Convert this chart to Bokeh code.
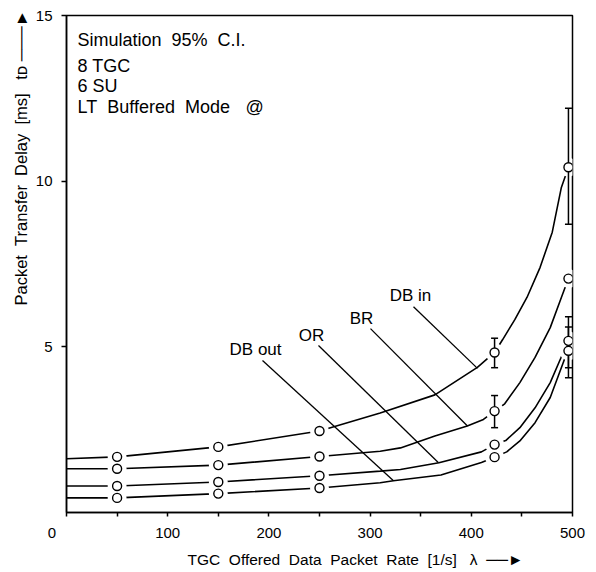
from bokeh.plotting import figure
from bokeh.models import Range1d, FixedTicker, Title
from bokeh.embed import file_html
from bokeh.resources import INLINE
from bokeh.core.properties import value

NB = "\u00a0"

# ---------------- data ----------------
# simulation points (x = offered rate [1/s], y = delay [ms])
pt_x = [50, 150, 250, 423, 496]
db_in_pts = [1.68, 1.98, 2.46, 4.83, 10.42]
br_pts = [1.32, 1.43, 1.69, 3.06, 7.06]
or_pts = [0.80, 0.92, 1.11, 2.05, 5.18]
db_out_pts = [0.44, 0.57, 0.74, 1.67, 4.88]

# analytic curves
db_in_cx = [0, 50, 150, 250, 310, 364, 406, 423, 431, 443, 455, 468, 480, 489, 496]
db_in_cy = [1.62, 1.68, 1.98, 2.46, 3.00, 3.55, 4.38, 4.83, 5.22, 5.82, 6.49, 7.40, 8.46, 9.81, 10.42]
br_cx = [0, 50, 150, 250, 310, 330, 364, 396, 412, 423, 433, 448, 463, 478, 489, 496]
br_cy = [1.32, 1.32, 1.43, 1.69, 1.85, 1.95, 2.31, 2.61, 2.81, 3.06, 3.28, 3.92, 4.68, 5.58, 6.49, 7.06]
or_cx = [0, 50, 150, 250, 310, 330, 368, 410, 423, 434, 448, 463, 478, 490, 496]
or_cy = [0.80, 0.80, 0.92, 1.11, 1.25, 1.30, 1.50, 1.83, 2.05, 2.17, 2.56, 3.16, 3.92, 4.77, 5.18]
db_out_cx = [0, 50, 150, 250, 310, 323, 370, 410, 423, 435, 448, 463, 478, 492, 496]
db_out_cy = [0.44, 0.44, 0.57, 0.74, 0.90, 0.96, 1.13, 1.51, 1.67, 1.83, 2.16, 2.71, 3.47, 4.62, 4.88]

# 95% confidence intervals
ci_x = [423, 423, 496, 496, 496]
ci_lo = [4.37, 2.56, 8.70, 4.37, 4.07]
ci_hi = [5.26, 3.53, 12.20, 5.91, 5.60]

# curve labels and their leader lines
curve_names = ["DB in", "BR", "OR", "DB out"]
name_x = [339.9, 291.5, 242.1, 186.8]
name_y = [6.54, 5.85, 5.34, 4.92]
lead_x0 = [342.9, 300.4, 249.0, 193.7]
lead_y0 = [6.21, 5.55, 5.04, 4.59]
lead_x1 = [406.1, 396.2, 367.6, 323.1]
lead_y1 = [4.35, 2.61, 1.50, 0.96]

info_lines = ["Simulation" + NB + " 95%" + NB + " C.I.", "8 TGC", "6 SU",
              "LT" + NB + " Buffered" + NB + " Mode"]
info_y = [14.25, 13.47, 12.87, 12.24]

x_ticks = [0, 50, 100, 150, 200, 250, 300, 350, 400, 450, 500]
x_labels = {0: "0" + NB * 7, 50: "", 100: "100", 150: "", 200: "200", 250: "",
            300: "300", 350: "", 400: "400", 450: "", 500: "500"}
y_ticks = [5, 10, 15]

GAP = " " + NB
x_title = ("TGC" + GAP + "Offered" + GAP + "Data" + GAP + "Packet" + GAP + "Rate" + GAP + "[1/s]"
           + NB * 3 + "λ" + NB * 2 + "──►")
y_title = ("Packet" + GAP + "Transfer" + GAP + "Delay" + GAP + "[ms]" + NB * 3
           + "tᴅ" + NB + "───►")

FONT = "Liberation Sans"

# ---------------- figure ----------------
p = figure(width=596, height=572, x_range=Range1d(0, 500), y_range=Range1d(0, 15),
           output_backend="svg", toolbar_location=None,
           min_border_left=66, min_border_right=24, min_border_top=15, min_border_bottom=57)
p.grid.visible = False
p.outline_line_color = "black"
p.outline_line_width = 1.5
p.outline_line_alpha = 1.0
p.background_fill_color = "white"
p.border_fill_color = "white"

for ax in (p.xaxis[0], p.yaxis[0]):
    ax.axis_line_width = 1.5
    ax.axis_line_color = "black"
    ax.major_tick_line_width = 1.5
    ax.major_tick_in = 0
    ax.minor_tick_line_color = None
    ax.major_label_text_font = FONT
    ax.major_label_text_font_size = "15px"
    ax.major_label_text_color = "black"

p.xaxis.ticker = FixedTicker(ticks=x_ticks)
p.xaxis.major_label_overrides = x_labels
p.xaxis.major_tick_out = 4
p.xaxis.major_label_standoff = 7

p.yaxis.ticker = FixedTicker(ticks=y_ticks)
p.yaxis.major_tick_out = 5
p.yaxis.major_label_standoff = 9

p.add_layout(Title(text=x_title, align="left", offset=121, standoff=10, text_font=FONT,
                   text_font_size="15.5px", text_font_style="normal", text_color="black"), "below")
p.add_layout(Title(text=y_title, align="left", offset=207, standoff=6, text_font=FONT,
                   text_font_size="16.5px", text_font_style="normal", text_color="black"), "left")

# curves
for cx, cy in [(db_in_cx, db_in_cy), (br_cx, br_cy), (or_cx, or_cy), (db_out_cx, db_out_cy)]:
    p.line(cx, cy, line_color="black", line_width=1.6)

# leader lines
p.segment(x0=lead_x0, y0=lead_y0, x1=lead_x1, y1=lead_y1, line_color="black", line_width=1.3)

# white halos that break the curves around the markers
for ys in (db_in_pts, br_pts, or_pts, db_out_pts):
    p.scatter(pt_x, ys, size=19, fill_color="white", line_color=None)

# confidence intervals
p.segment(x0=ci_x, y0=ci_lo, x1=ci_x, y1=ci_hi, line_color="black", line_width=1.5)
p.scatter(ci_x, ci_lo, marker="dash", size=7, line_color="black", line_width=1.5)
p.scatter(ci_x, ci_hi, marker="dash", size=7, line_color="black", line_width=1.5)

# markers
for ys in (db_in_pts, br_pts, or_pts, db_out_pts):
    p.scatter(pt_x, ys, size=9, fill_color="white", line_color="black", line_width=1.4)

# curve labels
p.text(name_x, name_y, text=curve_names, text_font=value(FONT), text_font_size="17px",
       text_align="center", text_baseline="middle", text_color="black")

# info block
p.text([10.9] * len(info_lines), info_y, text=info_lines, text_font=value(FONT),
       text_font_size="18px", text_align="left", text_baseline="middle", text_color="black")
p.text([186.0], [12.24], text=["@"], text_font=value(FONT), text_font_size="18px",
       text_align="center", text_baseline="middle", text_color="black")

open("out.html", "w").write(file_html(p, INLINE))
